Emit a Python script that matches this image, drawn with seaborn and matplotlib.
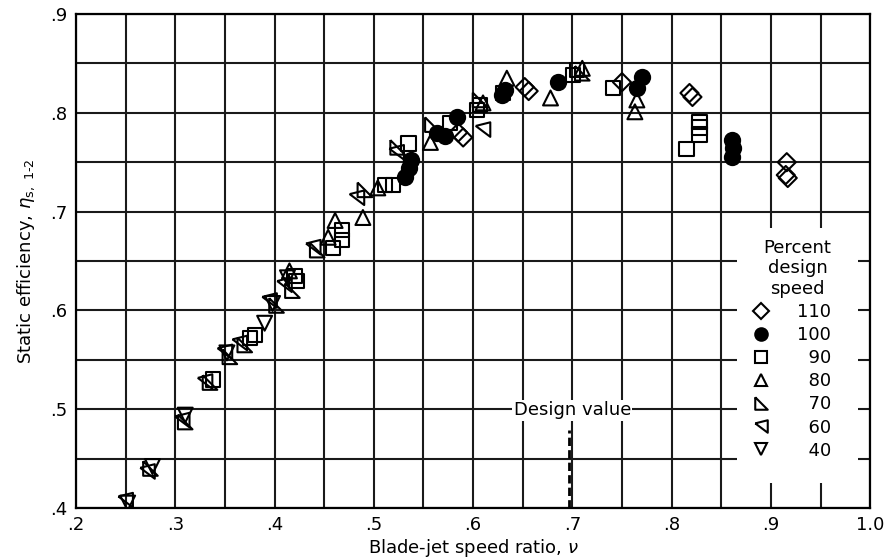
import numpy as np
import pandas as pd
import seaborn as sns
import matplotlib
matplotlib.use("Agg")
import matplotlib.pyplot as plt
from matplotlib.lines import Line2D
from matplotlib.patches import Rectangle
from matplotlib.ticker import MultipleLocator, FixedLocator

# ---------------- data ----------------
speeds = ["110", "100", "90", "80", "70", "60", "40"]

x110 = [0.585, 0.590, 0.652, 0.656, 0.750, 0.818, 0.821, 0.916, 0.917, 0.915]
y110 = [0.780, 0.775, 0.826, 0.822, 0.831, 0.820, 0.816, 0.750, 0.734, 0.737]

x100 = [0.531, 0.535, 0.537, 0.564, 0.572, 0.584, 0.629, 0.632, 0.686, 0.765, 0.770, 0.861, 0.862, 0.861]
y100 = [0.735, 0.744, 0.752, 0.780, 0.776, 0.796, 0.818, 0.823, 0.831, 0.825, 0.836, 0.772, 0.764, 0.755]

x90 = [0.338, 0.375, 0.380, 0.420, 0.422, 0.459, 0.468, 0.468, 0.511, 0.519, 0.535, 0.577,
       0.604, 0.607, 0.630, 0.701, 0.705, 0.741, 0.815, 0.828, 0.828, 0.828]
y90 = [0.530, 0.572, 0.575, 0.635, 0.630, 0.663, 0.671, 0.681, 0.727, 0.727, 0.769, 0.790,
       0.803, 0.808, 0.820, 0.838, 0.843, 0.825, 0.763, 0.791, 0.785, 0.778]

x80 = [0.415, 0.454, 0.461, 0.489, 0.504, 0.557, 0.610, 0.634, 0.678, 0.710, 0.765, 0.763]
y80 = [0.640, 0.674, 0.691, 0.694, 0.724, 0.770, 0.810, 0.835, 0.815, 0.845, 0.813, 0.801]

x70 = [0.275, 0.310, 0.335, 0.355, 0.370, 0.402, 0.418, 0.443, 0.491, 0.524, 0.559, 0.607, 0.710]
y70 = [0.440, 0.487, 0.527, 0.553, 0.565, 0.605, 0.620, 0.661, 0.722, 0.765, 0.788, 0.813, 0.840]

x60 = [0.250, 0.272, 0.307, 0.330, 0.350, 0.365, 0.395, 0.410, 0.439, 0.483, 0.523, 0.610]
y60 = [0.408, 0.437, 0.489, 0.528, 0.558, 0.567, 0.610, 0.626, 0.664, 0.714, 0.760, 0.783]

x40 = [0.252, 0.277, 0.310, 0.352, 0.390, 0.398, 0.413]
y40 = [0.405, 0.442, 0.494, 0.557, 0.587, 0.607, 0.633]

xs = [x110, x100, x90, x80, x70, x60, x40]
ys = [y110, y100, y90, y80, y70, y60, y40]

x_ticks = [0.2, 0.3, 0.4, 0.5, 0.6, 0.7, 0.8, 0.9, 1.0]
x_ticklabels = [".2", ".3", ".4", ".5", ".6", ".7", ".8", ".9", "1.0"]
y_ticks = [0.4, 0.5, 0.6, 0.7, 0.8, 0.9]
y_ticklabels = [".4", ".5", ".6", ".7", ".8", ".9"]
design_value = 0.697

# ---------------- style ----------------
sns.set_theme(style="white")
plt.rcParams["font.family"] = ["DejaVu Sans"]
plt.rcParams["mathtext.fontset"] = "dejavusans"
plt.rcParams["text.color"] = "black"
plt.rcParams["axes.labelcolor"] = "black"
plt.rcParams["xtick.color"] = "black"
plt.rcParams["ytick.color"] = "black"

m70 = [(-1, 1), (-1, -1), (1, -1), (-1, 1)]
m60 = [(-1, 0.5), (1, 1), (1, -1), (-1, 0.5)]
markers = {"110": "D", "100": "o", "90": "s", "80": "^", "70": m70, "60": m60, "40": "v"}
msize = {"110": 85, "100": 120, "90": 105, "80": 115, "70": 110, "60": 110, "40": 115}

fig = plt.figure(figsize=(8.87, 5.59), dpi=100)
ax = fig.add_axes([0.0857, 0.0912, 0.8953, 0.8838])

for sp, xv, yv in zip(speeds, xs, ys):
    df = pd.DataFrame({"nu": xv, "eta": yv})
    sns.scatterplot(data=df, x="nu", y="eta", marker=markers[sp], s=msize[sp],
                    color="black", edgecolor="black", linewidth=1.5, ax=ax,
                    zorder=3, legend=False)
    coll = ax.collections[-1]
    if sp != "100":
        coll.set_facecolor("none")
    else:
        coll.set_facecolor("black")
    coll.set_edgecolor("black")

ax.set_xlim(0.2, 1.0)
ax.set_ylim(0.4, 0.9)
ax.xaxis.set_major_locator(FixedLocator(x_ticks))
ax.yaxis.set_major_locator(FixedLocator(y_ticks))
ax.set_xticklabels(x_ticklabels, fontsize=13)
ax.set_yticklabels(y_ticklabels, fontsize=13)
ax.xaxis.set_minor_locator(MultipleLocator(0.05))
ax.yaxis.set_minor_locator(MultipleLocator(0.05))
ax.grid(True, which="both", color="#1a1a1a", linewidth=1.5)
ax.tick_params(which="both", length=0, pad=6, colors="black")
for s in ax.spines.values():
    s.set_color("black")
    s.set_linewidth(1.6)
ax.set_axisbelow(True)

ax.set_xlabel("Blade-jet speed ratio, $\\nu$", fontsize=13, labelpad=2)
ax.set_ylabel("Static efficiency, $\\eta$$_{\\mathregular{s,\\ 1\u20102}}$", fontsize=13, labelpad=10)

# legend area (white patch hiding grid)
ax.add_patch(Rectangle((0.866, 0.425), 0.122, 0.258, facecolor="white",
                       edgecolor="none", zorder=2))
handles = []
for sp in speeds:
    handles.append(Line2D([], [], linestyle="none", marker=markers[sp],
                          markersize=9 if sp not in ("110",) else 8,
                          markerfacecolor="black" if sp == "100" else "none",
                          markeredgecolor="black", markeredgewidth=1.5))
labels = ["110", "100", "\u200790", "\u200780", "\u200770", "\u200760", "\u200740"]
leg = ax.legend(handles, labels, title="Percent\ndesign\nspeed", frameon=False,
                loc="upper left", bbox_to_anchor=(0.872, 0.680), bbox_transform=ax.transData,
                fontsize=13, title_fontsize=13, handletextpad=1.4, labelspacing=0.28,
                borderaxespad=0, handlelength=1.2)
leg._legend_box.align = "right"
leg.get_title().set_multialignment("center")
leg.get_title().set_color("black")
for t in leg.get_texts():
    t.set_color("black")
leg.set_zorder(4)

# design value annotation
ax.plot([design_value, design_value], [0.4, 0.479], color="black", linestyle=(0, (3, 1.5)),
        linewidth=2, zorder=2)
ax.text(0.7, 0.499, "Design value", ha="center", va="center", fontsize=13, color="black",
        bbox=dict(facecolor="white", edgecolor="none", pad=1), zorder=3)

fig.savefig("out.png", dpi=100)
